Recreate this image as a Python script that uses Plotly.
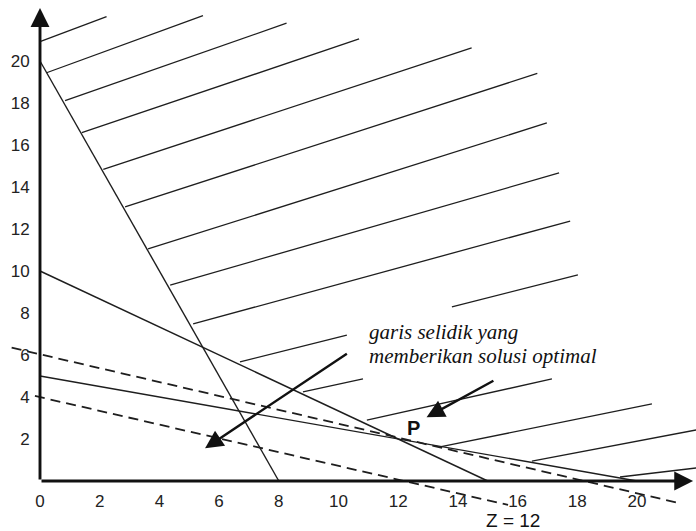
import plotly.graph_objects as go

# ---------------- data ----------------
x_ticks = [0, 2, 4, 6, 8, 10, 12, 14, 16, 18, 20]
y_ticks = [2, 4, 6, 8, 10, 12, 14, 16, 18, 20]

# constraint lines: x/a + y/b = 1
constraint_x_intercepts = [8, 15, 20]
constraint_y_intercepts = [20, 10, 5]

# hatching segments of the feasible region
hatch_x0 = [0.00, 0.22, 0.84, 1.40, 2.12, 2.85, 3.62, 4.36, 5.13, 6.70, 13.80, 8.81, 10.95, 13.40, 16.48, 19.43]
hatch_y0 = [20.92, 19.44, 18.11, 16.59, 14.84, 13.05, 11.05, 9.33, 7.48, 5.67, 8.29, 4.24, 2.90, 1.62, 0.95, 0.19]
hatch_x1 = [2.23, 5.46, 8.26, 10.69, 14.46, 16.66, 16.98, 17.39, 17.76, 10.28, 18.02, 10.82, 17.15, 20.50, 21.98, 21.98]
hatch_y1 = [22.11, 22.16, 21.80, 21.05, 20.63, 19.41, 17.05, 14.67, 12.38, 6.95, 9.81, 4.86, 4.86, 3.67, 2.43, 0.62]

# dashed probe (objective) lines: start and end points
probe_x0 = [-0.95, -0.17]
probe_y0 = [6.35, 4.05]
probe_x1 = [21.44, 15.68]
probe_y1 = [-1.06, -1.14]

# optimum point
P_point = (12, 2)
z_value = 12

# ---------------- figure ----------------
X_RANGE = [-40 / 29.85, 656 / 29.85]
Y_RANGE = [-50 / 21.0, 481 / 21.0]

LINE_COLOR = "#1e1e1e"
fig = go.Figure()

# constraint lines
cx, cy = [], []
for a, b in zip(constraint_x_intercepts, constraint_y_intercepts):
    cx += [0, a, None]
    cy += [b, 0, None]
fig.add_trace(go.Scatter(x=cx, y=cy, mode="lines",
                         line=dict(color=LINE_COLOR, width=1.4),
                         hoverinfo="skip", showlegend=False))

# hatching
hx, hy = [], []
for x0, y0, x1, y1 in zip(hatch_x0, hatch_y0, hatch_x1, hatch_y1):
    hx += [x0, x1, None]
    hy += [y0, y1, None]
fig.add_trace(go.Scatter(x=hx, y=hy, mode="lines",
                         line=dict(color=LINE_COLOR, width=1.3),
                         hoverinfo="skip", showlegend=False))

# dashed probe lines
px_, py_ = [], []
for x0, y0, x1, y1 in zip(probe_x0, probe_y0, probe_x1, probe_y1):
    px_ += [x0, x1, None]
    py_ += [y0, y1, None]
fig.add_trace(go.Scatter(x=px_, y=py_, mode="lines",
                         line=dict(color=LINE_COLOR, width=1.8, dash="10px,6px"),
                         hoverinfo="skip", showlegend=False))

annotations = []
# axis arrows
annotations.append(dict(x=0, y=22.52, ax=0, ay=0, xref="x", yref="y", axref="x", ayref="y",
                        text="", showarrow=True, arrowhead=2, arrowsize=1.3,
                        arrowwidth=2.9, arrowcolor="#111", standoff=0))
annotations.append(dict(x=21.88, y=0, ax=0, ay=0, xref="x", yref="y", axref="x", ayref="y",
                        text="", showarrow=True, arrowhead=2, arrowsize=1.3,
                        arrowwidth=2.9, arrowcolor="#111", standoff=0))
# pointer arrows
annotations.append(dict(x=5.53, y=1.56, ax=10.33, ay=6.11, xref="x", yref="y", axref="x", ayref="y",
                        text="", showarrow=True, arrowhead=2, arrowsize=1.5,
                        arrowwidth=2.4, arrowcolor="#111", standoff=0))
annotations.append(dict(x=12.95, y=3.03, ax=15.24, ay=4.81, xref="x", yref="y", axref="x", ayref="y",
                        text="", showarrow=True, arrowhead=2, arrowsize=1.5,
                        arrowwidth=2.4, arrowcolor="#111", standoff=0))
# texts
serif = dict(family="Liberation Serif, Times New Roman, serif", size=21, color="#111")
annotations.append(dict(x=10.95, y=7.10, xref="x", yref="y", text="<i>garis selidik yang</i>",
                        showarrow=False, xanchor="left", yanchor="middle", font=serif))
annotations.append(dict(x=10.95, y=5.95, xref="x", yref="y", text="<i>memberikan solusi optimal</i>",
                        showarrow=False, xanchor="left", yanchor="middle", font=serif))
annotations.append(dict(x=P_point[0] + 0.5, y=P_point[1] + 0.52, xref="x", yref="y", text="<b>P</b>",
                        showarrow=False, xanchor="center", yanchor="middle",
                        font=dict(family="Liberation Sans, Arial, sans-serif", size=20, color="#111")))
annotations.append(dict(x=15.85, y=-1.86, xref="x", yref="y", text=f"Z = {z_value}",
                        showarrow=False, xanchor="center", yanchor="middle",
                        font=dict(family="Liberation Sans, Arial, sans-serif", size=19, color="#111")))

x_axis_pos = (0 - Y_RANGE[0]) / (Y_RANGE[1] - Y_RANGE[0])
y_axis_pos = (0 - X_RANGE[0]) / (X_RANGE[1] - X_RANGE[0])
tick_font = dict(family="Liberation Sans, Arial, sans-serif", size=17, color="#222")

fig.update_layout(
    width=696, height=531,
    margin=dict(l=0, r=0, t=0, b=0),
    paper_bgcolor="white", plot_bgcolor="white",
    showlegend=False,
    annotations=annotations,
    xaxis=dict(range=X_RANGE, anchor="free", position=x_axis_pos, side="bottom",
               tickvals=x_ticks, ticktext=[str(v) for v in x_ticks],
               showgrid=False, zeroline=False, showline=False,
               ticks="outside", ticklen=5, tickcolor="rgba(0,0,0,0)",
               tickfont=tick_font, fixedrange=True),
    yaxis=dict(range=Y_RANGE, anchor="free", position=y_axis_pos, side="left",
               tickvals=y_ticks, ticktext=[str(v) for v in y_ticks],
               showgrid=False, zeroline=False, showline=False,
               ticks="outside", ticklen=7, tickcolor="rgba(0,0,0,0)",
               tickfont=tick_font, fixedrange=True),
)

fig.write_html(
    "out.html",
    config={"displayModeBar": False},
    post_script="document.body.style.margin='0';document.body.style.padding='0';"
                "document.body.style.overflow='hidden';",
)
